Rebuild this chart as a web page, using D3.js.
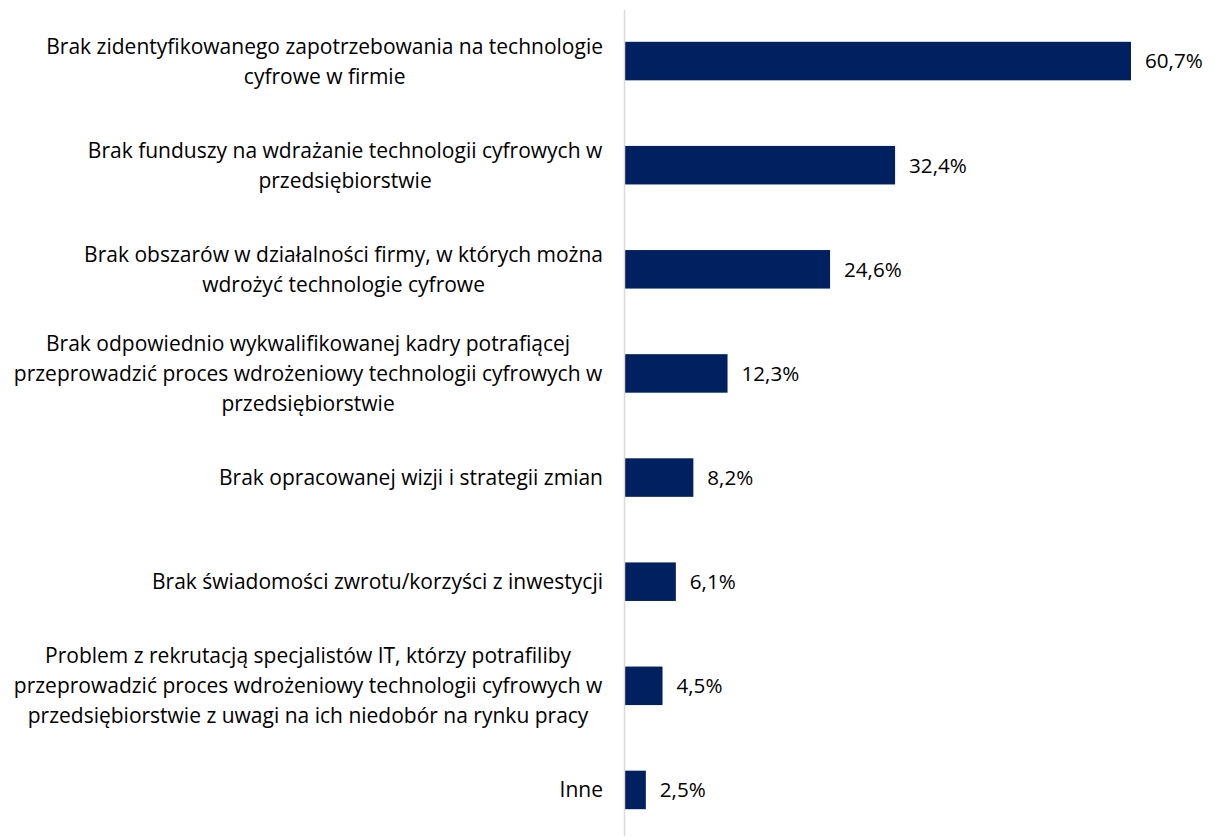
<!DOCTYPE html>
<html>
<head>
<meta charset="utf-8">
<script src="https://cdn.jsdelivr.net/npm/d3@7"></script>
<style>
  html, body { margin: 0; padding: 0; background: #ffffff; }
  svg { display: block; }
  text { font-family: "Open Sans", "Noto Sans", "Liberation Sans", sans-serif; fill: #000000; }
</style>
</head>
<body>
<svg id="chart" width="1214" height="837"></svg>
<script>
// Barriers to adopting digital technologies (share of firms, %)
const categories = [
  ["Brak zidentyfikowanego zapotrzebowania na technologie", "cyfrowe w firmie"],
  ["Brak funduszy na wdrażanie technologii cyfrowych w", "przedsiębiorstwie"],
  ["Brak obszarów w działalności firmy, w których można", "wdrożyć technologie cyfrowe"],
  ["Brak odpowiednio wykwalifikowanej kadry potrafiącej", "przeprowadzić proces wdrożeniowy technologii cyfrowych w", "przedsiębiorstwie"],
  ["Brak opracowanej wizji i strategii zmian"],
  ["Brak świadomości zwrotu/korzyści z inwestycji"],
  ["Problem z rekrutacją specjalistów IT, którzy potrafiliby", "przeprowadzić proces wdrożeniowy technologii cyfrowych w", "przedsiębiorstwie z uwagi na ich niedobór na rynku pracy"],
  ["Inne"]
];
const values = [60.7, 32.4, 24.6, 12.3, 8.2, 6.1, 4.5, 2.5];
const valueLabels = ["60,7%", "32,4%", "24,6%", "12,3%", "8,2%", "6,1%", "4,5%", "2,5%"];

const svg = d3.select("#chart");
const axisX = 624.5;
const labelRight = 603;
const lineHeight = 30;
const fontSize = "21px";

const ids = d3.range(values.length);

const y = d3.scaleBand()
  .domain(ids)
  .range([9, 842])
  .paddingInner(0.63)
  .paddingOuter(0.315);

const x = d3.scaleLinear()
  .domain([0, 60.7])
  .range([axisX + 0.5, 1131]);

// bars
svg.append("g")
  .selectAll("rect")
  .data(ids)
  .join("rect")
  .attr("x", x(0))
  .attr("y", i => y(i))
  .attr("width", i => x(values[i]) - x(0))
  .attr("height", y.bandwidth())
  .attr("fill", "#002060");

// vertical category axis line
svg.append("line")
  .attr("x1", axisX).attr("x2", axisX)
  .attr("y1", 10).attr("y2", 836)
  .attr("stroke", "#d9d9d9")
  .attr("stroke-width", 1.5);

// value labels
svg.append("g")
  .selectAll("text")
  .data(ids)
  .join("text")
  .attr("x", i => x(values[i]) + 14)
  .attr("y", i => y(i) + y.bandwidth() / 2)
  .attr("dy", "0.36em")
  .style("font-size", "20.6px")
  .text(i => valueLabels[i]);

// category labels: lines centred within the block, block right-aligned
const labels = svg.append("g")
  .selectAll("g")
  .data(ids)
  .join("g");

labels.each(function (i) {
  const g = d3.select(this);
  const lines = categories[i];
  const t = g.append("text")
    .attr("text-anchor", "middle")
    .style("font-size", fontSize);
  const cy = y(i) + y.bandwidth() / 2;
  const offset = -(lines.length - 1) / 2 * lineHeight;
  lines.forEach((ln, k) => {
    t.append("tspan")
      .attr("x", 0)
      .attr("y", cy + offset + k * lineHeight)
      .attr("dy", "0.36em")
      .text(ln);
  });
  const bb = t.node().getBBox();
  g.attr("transform", `translate(${labelRight - (bb.x + bb.width)},0)`);
});
</script>
</body>
</html>
